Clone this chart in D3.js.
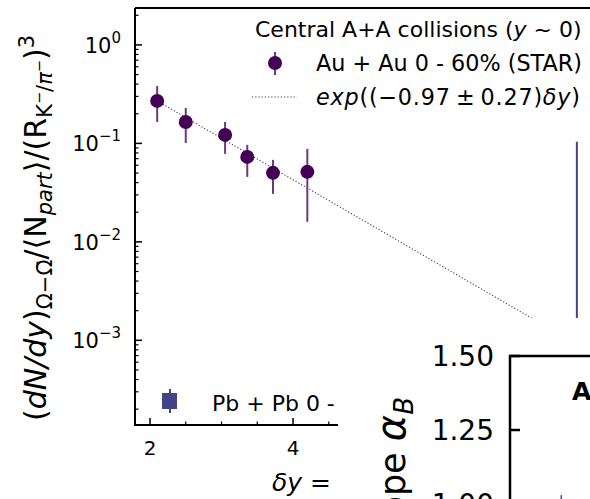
<!DOCTYPE html>
<html>
<head>
<meta charset="utf-8" />
<script src="https://d3js.org/d3.v7.min.js"></script>
<style>
  body { margin: 0; background: #fff; }
  svg { display: block; font-family: "DejaVu Sans", sans-serif; }
  text { fill: #000; }
</style>
</head>
<body>
<div id="chart"></div>
<script>
// Au+Au (STAR) Omega yields vs delta y
const dyVals   = [2.10, 2.50, 3.05, 3.36, 3.72, 4.20];
const auYield  = [0.270, 0.165, 0.122, 0.0729, 0.0502, 0.0514];
const auErrLo  = [0.165, 0.101, 0.0782, 0.0457, 0.0307, 0.0160];
const auErrHi  = [0.383, 0.229, 0.165, 0.0966, 0.0680, 0.0879];

// exponential fit
const fitSlope = -0.97;
const fitNorm = 2.07;
const fitRange = [2.1, 8.3];

// Pb+Pb point (mostly hidden below the inset)
const pbDy = [7.97];
const pbYield = [0.0008];
const pbErrLo = [0.0002];
const pbErrHi = [0.104];

const xMajor = [2, 4, 6, 8];
const yMajorExp = [0, -1, -2, -3];

// inset (slope alpha_B)
const insetTicks = [1.00, 1.25, 1.50];
const insetX = [0.27];
const insetHi = [1.03];
const insetLo = [0.90];

const W = 590, H = 499;
const svg = d3.select("#chart").append("svg").attr("width", W).attr("height", H);

const x = d3.scaleLinear().domain([1.79, 8.3]).range([135, 135 + 6.51 * 71.5]);
const y = d3.scaleLog().domain([Math.pow(10, -3.86), Math.pow(10, 0.375)]).range([425, 8]);

const purple = "#440154", purpleBar = "#6b3a7d", blue = "#414487";

// ticks (inward)
const tk = svg.append("g").attr("stroke", "#000");
for (let v = 2; v <= 8.3; v += 0.5) {
  const major = xMajor.includes(v);
  tk.append("line").attr("x1", x(v)).attr("x2", x(v))
    .attr("y1", 425).attr("y2", 425 - (major ? 7 : 3.5)).attr("stroke-width", major ? 1.5 : 1.2);
}
for (let e = -4; e <= 0; e++) {
  for (let m = 1; m <= 9; m++) {
    const v = m * Math.pow(10, e);
    if (y(v) < 8 || y(v) > 425) continue;
    tk.append("line").attr("x1", 135).attr("x2", 135 + (m === 1 ? 7 : 3.5))
      .attr("y1", y(v)).attr("y2", y(v)).attr("stroke-width", m === 1 ? 1.5 : 1.2);
  }
}

// tick labels
xMajor.forEach(v => {
  svg.append("text").attr("x", x(v)).attr("y", 455).attr("text-anchor", "middle")
    .attr("font-size", 20).text(v);
});
yMajorExp.forEach(e => {
  const t = svg.append("text").attr("x", 121).attr("y", y(Math.pow(10, e)) + 8)
    .attr("text-anchor", "end").attr("font-size", 21);
  t.append("tspan").text("10");
  t.append("tspan").attr("dy", -10).attr("font-size", 15).text(e === 0 ? "0" : "\u2212" + (-e));
});

// fit line
const fitPts = d3.range(fitRange[0], fitRange[1] + 0.001, 0.05).map(v => [v, fitNorm * Math.exp(fitSlope * v)]);
svg.append("path").datum(fitPts)
  .attr("d", d3.line().x(d => x(d[0])).y(d => y(d[1])))
  .attr("fill", "none").attr("stroke", "#444").attr("stroke-width", 1.1).attr("stroke-dasharray", "1.2,2");

// Pb+Pb error bar
pbDy.forEach((v, i) => {
  svg.append("line").attr("x1", x(v)).attr("x2", x(v))
    .attr("y1", y(pbErrHi[i])).attr("y2", y(pbErrLo[i])).attr("stroke", blue).attr("stroke-width", 2);
  svg.append("rect").attr("x", x(v) - 7).attr("y", y(pbYield[i]) - 7).attr("width", 14).attr("height", 14).attr("fill", blue);
});

// Au+Au points
dyVals.forEach((v, i) => {
  svg.append("line").attr("x1", x(v)).attr("x2", x(v))
    .attr("y1", y(auErrHi[i])).attr("y2", y(auErrLo[i])).attr("stroke", purpleBar).attr("stroke-width", 2);
  svg.append("circle").attr("cx", x(v)).attr("cy", y(auYield[i])).attr("r", 7).attr("fill", purple);
});

// spines
svg.append("path").attr("d", `M135,8H${W + 5}M135,8V425H${W + 5}`)
  .attr("fill", "none").attr("stroke", "#000").attr("stroke-width", 2);

// legend (upper right)
const tt = svg.append("text").attr("x", 255).attr("y", 37).attr("font-size", 22);
tt.append("tspan").text("Central A+A collisions (");
tt.append("tspan").attr("font-style", "italic").text("y");
tt.append("tspan").text(" ~ 0)");
svg.append("line").attr("x1", 275).attr("x2", 275).attr("y1", 52).attr("y2", 75).attr("stroke", purpleBar).attr("stroke-width", 2);
svg.append("circle").attr("cx", 275).attr("cy", 63).attr("r", 7).attr("fill", purple);
svg.append("text").attr("x", 316).attr("y", 71).attr("font-size", 22.3).text("Au + Au 0 - 60% (STAR)");
svg.append("line").attr("x1", 252).attr("x2", 297).attr("y1", 97).attr("y2", 97)
  .attr("stroke", "#444").attr("stroke-width", 1.1).attr("stroke-dasharray", "1.2,2");
const ft = svg.append("text").attr("x", 316).attr("y", 105).attr("font-size", 22.3)
  .attr("textLength", 264).attr("lengthAdjust", "spacing");
ft.append("tspan").attr("font-style", "italic").text("exp");
ft.append("tspan").text("((\u22120.97\u2009\u00b1\u20090.27)");
ft.append("tspan").attr("font-style", "italic").text("\u03b4y");
ft.append("tspan").text(")");

// legend (lower left)
svg.append("line").attr("x1", 170).attr("x2", 170).attr("y1", 389).attr("y2", 413).attr("stroke", blue).attr("stroke-width", 2);
svg.append("rect").attr("x", 162).attr("y", 393).attr("width", 15).attr("height", 16).attr("fill", blue);
svg.append("text").attr("x", 212).attr("y", 411).attr("font-size", 22).text("Pb + Pb 0 - 10% (ALICE)");

// x label
const xl = svg.append("text").attr("x", 272).attr("y", 491).attr("font-size", 25);
xl.append("tspan").attr("font-style", "italic").text("\u03b4y");
xl.append("tspan").text(" =  ");
xl.append("tspan").attr("font-style", "italic").text("y");

// y label
const yl = svg.append("text").attr("transform", "translate(46,228) rotate(-90)")
  .attr("text-anchor", "middle").attr("font-size", 30);
yl.append("tspan").text("(");
yl.append("tspan").attr("font-style", "italic").text("dN/dy");
yl.append("tspan").text(")");
yl.append("tspan").attr("dy", 6).attr("font-size", 21).text("\u03a9\u2212\u03a9\u0304");
yl.append("tspan").attr("dy", -6).text("/\u27e8N");
yl.append("tspan").attr("dy", 6).attr("font-size", 21).attr("font-style", "italic").text("part");
yl.append("tspan").attr("dy", -6).text("\u27e9/(R");
yl.append("tspan").attr("dy", 6).attr("font-size", 21).text("K");
yl.append("tspan").attr("dy", -8).attr("font-size", 14.5).text("\u2212");
yl.append("tspan").attr("dy", 8).attr("font-size", 21).text("/");
yl.append("tspan").attr("font-size", 21).attr("font-style", "italic").text("\u03c0");
yl.append("tspan").attr("dy", -8).attr("font-size", 14.5).text("\u2212");
yl.append("tspan").attr("dy", 2).text(")");
yl.append("tspan").attr("dy", -12).attr("font-size", 21).text("3");

// inset panel (covers lower right)
svg.append("rect").attr("x", 338).attr("y", 318).attr("width", W).attr("height", H).attr("fill", "#fff");
const yi = d3.scaleLinear().domain([1.0, 1.5]).range([504, 356]);
const xi = d3.scaleLinear().domain([0, 1]).range([510, 700]);
svg.append("path").attr("d", `M510,${H + 10}V356H${W + 5}`)
  .attr("fill", "none").attr("stroke", "#000").attr("stroke-width", 2.5);
insetTicks.forEach(v => {
  svg.append("line").attr("x1", 510).attr("x2", 520).attr("y1", yi(v)).attr("y2", yi(v))
    .attr("stroke", "#000").attr("stroke-width", 2.5);
  svg.append("text").attr("x", 494).attr("y", yi(v) + 10).attr("text-anchor", "end")
    .attr("font-size", 28).text(v.toFixed(2));
});
insetX.forEach((v, i) => {
  svg.append("line").attr("x1", xi(v)).attr("x2", xi(v)).attr("y1", yi(insetHi[i])).attr("y2", yi(insetLo[i]))
    .attr("stroke", blue).attr("stroke-width", 1.5);
});
const il = svg.append("text").attr("transform", "translate(405,397) rotate(-90)")
  .attr("text-anchor", "end").attr("font-size", 35);
il.append("tspan").text("Slope ");
il.append("tspan").attr("font-size", 40).attr("font-style", "italic").text("\u03b1");
il.append("tspan").attr("dy", 8).attr("font-size", 26).attr("font-style", "italic").text("B");
svg.append("text").attr("x", 572).attr("y", 400).attr("font-size", 25).attr("font-weight", "bold").text("A+A");
</script>
</body>
</html>
